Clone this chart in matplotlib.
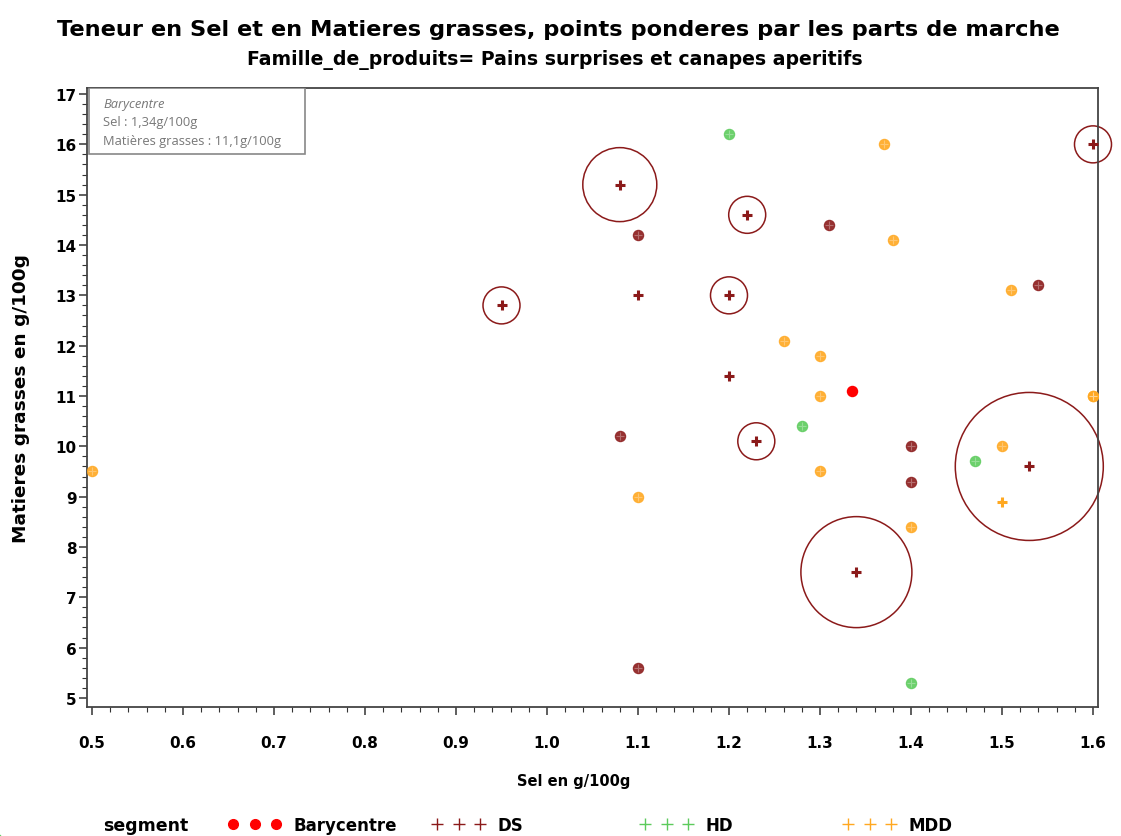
import numpy as np
import matplotlib.pyplot as plt
from matplotlib.lines import Line2D
from matplotlib.patches import Rectangle

# Sel (g/100g), matieres grasses (g/100g), parts de marche (nan = non renseigne)
ds_sel = [1.08, 1.22, 0.95, 1.20, 1.23, 1.34, 1.53, 1.60, 1.10, 1.20,
          1.10, 1.31, 1.54, 1.08, 1.40, 1.40, 1.10]
ds_mg = [15.2, 14.6, 12.8, 13.0, 10.1, 7.5, 9.6, 16.0, 13.0, 11.4,
         14.2, 14.4, 13.2, 10.2, 10.0, 9.3, 5.6]
ds_parts = [20, 10, 10, 10, 10, 30, 40, 10, 0.5, 0.5,
            np.nan, np.nan, np.nan, np.nan, np.nan, np.nan, np.nan]

hd_sel = [1.20, 1.28, 1.47, 1.40]
hd_mg = [16.2, 10.4, 9.7, 5.3]
hd_parts = [np.nan, np.nan, np.nan, np.nan]

mdd_sel = [1.37, 1.38, 1.51, 1.26, 1.30, 1.30, 1.60, 1.60, 1.50, 0.50,
           1.30, 1.10, 1.50, 1.40]
mdd_mg = [16.0, 14.1, 13.1, 12.1, 11.8, 11.0, 11.0, 11.0, 10.0, 9.5,
          9.5, 9.0, 8.9, 8.4]
mdd_parts = [np.nan, np.nan, np.nan, np.nan, np.nan, np.nan, np.nan, np.nan,
             np.nan, np.nan, np.nan, np.nan, 0.5, np.nan]

bary_sel = 1.335
bary_mg = 11.1

segments = ['DS', 'HD', 'MDD']
colors = {'DS': '#8B1A1A', 'HD': '#5CCB5C', 'MDD': '#FFA820'}
data = {'DS': (ds_sel, ds_mg, ds_parts),
        'HD': (hd_sel, hd_mg, hd_parts),
        'MDD': (mdd_sel, mdd_mg, mdd_parts)}

fig = plt.figure(figsize=(11.21, 8.37), dpi=100)
ax = fig.add_axes([87 / 1121, 1 - 708 / 837, 1011 / 1121, 619 / 837])

for seg in segments:
    x, y, p = (np.array(v, dtype=float) for v in data[seg])
    c = colors[seg]
    nop = np.isnan(p)
    # points sans part de marche : rond plein barre d'une croix
    ax.scatter(x[nop], y[nop], s=68, color=c, alpha=0.9, linewidths=0, zorder=3)
    ax.scatter(x[nop], y[nop], s=40, marker='+', color='white', alpha=0.3,
               linewidths=0.8, zorder=4)
    # points ponderes : croix + bulle proportionnelle a la part
    w = ~nop
    ax.scatter(x[w], y[w], s=45, marker='+', color=c, linewidths=2.2, zorder=4)
    diam = 2 * 1.85 * p[w] * 0.72
    ax.scatter(x[w], y[w], s=diam ** 2, facecolors='none', edgecolors=c,
               linewidths=1.1, zorder=2, clip_on=False)

ax.scatter([bary_sel], [bary_mg], s=68, color='#FF0000', linewidths=0, zorder=5)

ax.set_xlim(0.4945, 1.6055)
ax.set_ylim(4.82, 17.12)
ax.set_xticks(np.arange(0.5, 1.61, 0.1))
ax.set_xticklabels(['%.1f' % v for v in np.arange(0.5, 1.61, 0.1)])
ax.set_xticks(np.arange(0.5, 1.601, 0.02), minor=True)
ax.set_yticks(np.arange(5, 18, 1))
ax.set_yticks(np.arange(5, 17.01, 0.2), minor=True)
ax.tick_params(which='major', length=6, width=1.1, color='#333333',
               labelsize=11)
ax.tick_params(which='minor', length=3.5, width=0.8, color='#333333')
for lab in ax.get_xticklabels() + ax.get_yticklabels():
    lab.set_fontweight('bold')
ax.tick_params(axis='x', pad=14)
ax.tick_params(axis='y', pad=1.5)
for sp in ax.spines.values():
    sp.set_color('#444444')
    sp.set_linewidth(1.3)

ax.set_xlabel('Sel en g/100g', fontsize=10.5, fontweight='bold')
ax.xaxis.set_label_coords(0.481, -0.106)
ax.set_ylabel('Matieres grasses en g/100g', fontsize=13.3, fontweight='bold')
ax.yaxis.set_label_coords(-0.056, 0.5)

# encart barycentre
ax.add_patch(Rectangle((0.002, 0.893), 0.214, 0.107, transform=ax.transAxes,
                       facecolor='white', edgecolor='#888888', linewidth=1.2,
                       zorder=6))
ax.text(0.016, 0.975, 'Barycentre', transform=ax.transAxes, fontsize=9.3,
        style='italic', color='#777777', va='center', family='Open Sans', zorder=7)
ax.text(0.016, 0.946, 'Sel : 1,34g/100g', transform=ax.transAxes, fontsize=9.3,
        color='#777777', va='center', family='Open Sans', zorder=7)
ax.text(0.016, 0.915, 'Matières grasses : 11,1g/100g', transform=ax.transAxes,
        fontsize=9.3, color='#777777', va='center', family='Open Sans', zorder=7)

fig.text(0.498, 1 - 30 / 837,
         'Teneur en Sel et en Matieres grasses, points ponderes par les parts de marche',
         ha='center', va='center', fontsize=16.2, fontweight='bold')
fig.text(0.495, 1 - 60 / 837,
         'Famille_de_produits= Pains surprises et canapes aperitifs',
         ha='center', va='center', fontsize=13.6, fontweight='bold')

# legende en bas
fig.text(103 / 1121, 1 - 826 / 837, 'segment', ha='left', va='center',
         fontsize=12.5, fontweight='bold')
leg_items = [('Barycentre', Line2D([], [], ls='none', marker='o', ms=7,
                                   color='#FF0000'), 228),
             ('DS', Line2D([], [], ls='none', marker='+', ms=8, mew=1,
                           color=colors['DS']), 432),
             ('HD', Line2D([], [], ls='none', marker='+', ms=8, mew=1,
                           color=colors['HD']), 640),
             ('MDD', Line2D([], [], ls='none', marker='+', ms=8, mew=1,
                            color=colors['MDD']), 843)]
for lab, h, xp in leg_items:
    fig.legend([h], [lab], loc='center left',
               bbox_to_anchor=(xp / 1121, 1 - 826 / 837), frameon=False,
               numpoints=3, handlelength=3.2, handletextpad=0.75,
               borderpad=0, borderaxespad=0,
               prop={'size': 12, 'weight': 'bold'})

fig.savefig('out.png', dpi=100)
